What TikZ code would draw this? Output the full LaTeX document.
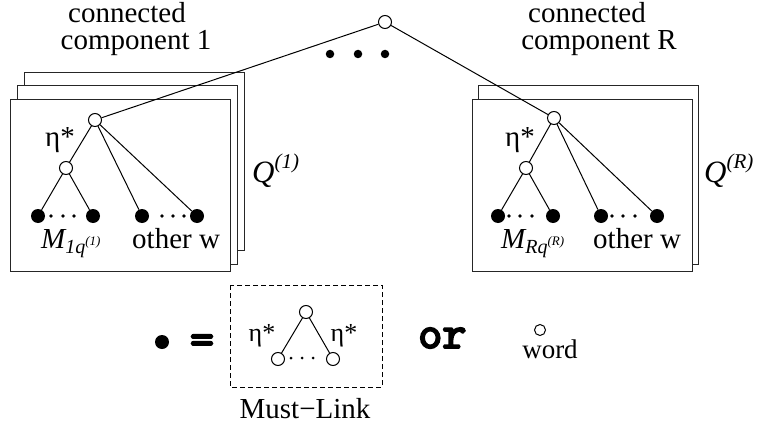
\documentclass[tikz,border=0pt]{standalone}
\usepackage{fontspec}
\setmainfont{Liberation Serif}
\newfontfamily\courb{lmmono10-regular.otf}[FakeBold=4]
\tikzset{
  openc/.style={circle, draw, fill=white, inner sep=0pt, minimum size=13pt, line width=1pt},
  leaf/.style={circle, fill=black, inner sep=0pt, minimum size=14pt},
  bigdot/.style={circle, fill=black, inner sep=0pt, minimum size=8.5pt},
  sdot/.style={circle, fill=black, inner sep=0pt, minimum size=3.6pt},
  frame/.style={draw=black!85, fill=white, line width=1pt},
  lbl/.style={font=\rmfamily\fontsize{29}{29}\selectfont, inner sep=0pt, anchor=base},
  lblw/.style={lbl, anchor=base west},
  monolbl/.style={inner sep=0pt, font=\courb\fontsize{46}{46}\selectfont},
  edge/.style={line width=1pt},
}
\newcommand{\Mlab}[2]{{\rmfamily\fontsize{29}{29}\selectfont\itshape M\raisebox{-5pt}{\fontsize{20}{20}\selectfont #1q\raisebox{8pt}{\fontsize{13}{13}\selectfont (#2)}}}}
\newcommand{\Qlab}[1]{{\rmfamily\fontsize{31}{31}\selectfont\itshape Q\raisebox{14pt}{\fontsize{21}{21}\selectfont (#1)}}}
\begin{document}
\begin{tikzpicture}[x=1pt,y=-1pt]
\useasboundingbox (0,0) rectangle (757,428);
% boxes
\draw[frame] (24,72) rectangle (244,250);
\draw[frame] (17,85) rectangle (237,264);
\draw[frame] (10,99) rectangle (230,271);
\draw[frame] (478,85) rectangle (698,264);
\draw[frame] (472,99) rectangle (692,271);
% titles
\node[lbl] (t1a) at (127,23) {connected};
\node[lbl] (t1b) at (136,50) {component 1};
\node[lbl] (tRa) at (587,23) {connected};
\node[lbl] (tRb) at (599,50) {component R};
% top
\node[openc] (top) at (385,22) {};
\node[bigdot] (d1) at (330,54) {};
\node[bigdot] (d2) at (358,54) {};
\node[bigdot] (d3) at (385,54) {};
% left tree
\node[openc] (r1) at (95,120) {};
\node[openc] (m1) at (66,168) {};
\node[leaf] (a1) at (38,216) {};
\node[leaf] (a2) at (93,216) {};
\node[leaf] (b1) at (142,216) {};
\node[leaf] (b2) at (197,216) {};
\node[sdot] (s11) at (51,216) {};
\node[sdot] (s12) at (63,216) {};
\node[sdot] (s13) at (74,216) {};
\node[sdot] (s14) at (162,216) {};
\node[sdot] (s15) at (173,216) {};
\node[sdot] (s16) at (184,216) {};
\node[lbl] (eta1) at (60,146) {η*};
\node[lblw] (M1) at (41,248) {\Mlab{1}{1}};
\node[lblw] (o1) at (132,248) {other w};
\node[lblw] (Q1) at (252,182) {\Qlab{1}};
% right tree
\node[openc] (r2) at (554,118) {};
\node[openc] (m2) at (526,168) {};
\node[leaf] (c1) at (498,216) {};
\node[leaf] (c2) at (553,216) {};
\node[leaf] (e1) at (601,216) {};
\node[leaf] (e2) at (657,216) {};
\node[sdot] (s21) at (509,216) {};
\node[sdot] (s22) at (520,216) {};
\node[sdot] (s23) at (532,216) {};
\node[sdot] (s24) at (612,216) {};
\node[sdot] (s25) at (623,216) {};
\node[sdot] (s26) at (635,216) {};
\node[lbl] (eta2) at (520,146) {η*};
\node[lblw] (MR) at (501,248) {\Mlab{R}{R}};
\node[lblw] (oR) at (593,248) {other w};
\node[lblw] (QR) at (704,182) {\Qlab{R}};
% edges
\draw[edge] (top) -- (r1);
\draw[edge] (top) -- (r2);
\draw[edge] (r1) -- (m1);
\draw[edge] (r1) -- (b1);
\draw[edge] (r1) -- (b2);
\draw[edge] (m1) -- (a1);
\draw[edge] (m1) -- (a2);
\draw[edge] (r2) -- (m2);
\draw[edge] (r2) -- (e1);
\draw[edge] (r2) -- (e2);
\draw[edge] (m2) -- (c1);
\draw[edge] (m2) -- (c2);
% legend
\node[leaf] (ldot) at (162,342) {};
\node[monolbl, anchor=base] (eq) at (202,354) {=};
\draw[dashed, dash pattern=on 5pt off 3pt, line width=0.8pt] (230,285) rectangle (382,387);
\node[openc] (lt) at (306,312) {};
\node[openc] (lb1) at (278,359) {};
\node[openc] (lb2) at (333,359) {};
\node[sdot, minimum size=3pt] (ls1) at (291,358) {};
\node[sdot, minimum size=3pt] (ls2) at (302,358) {};
\node[sdot, minimum size=3pt] (ls3) at (313,358) {};
\draw[edge] (lt) -- (lb1);
\draw[edge] (lt) -- (lb2);
\node[lbl, font=\rmfamily\fontsize{26}{26}\selectfont] (leta1) at (262,341) {η*};
\node[lbl, font=\rmfamily\fontsize{26}{26}\selectfont] (leta2) at (344,341) {η*};
\node[lbl] (ml) at (305,418) {Must−Link};
\node[monolbl, anchor=base west] (or) at (418,348) {or};
\node[openc, minimum size=11pt] (wc) at (540,330) {};
\node[lbl, font=\rmfamily\fontsize{27}{27}\selectfont] (word) at (550,358) {word};
\end{tikzpicture}
\end{document}
